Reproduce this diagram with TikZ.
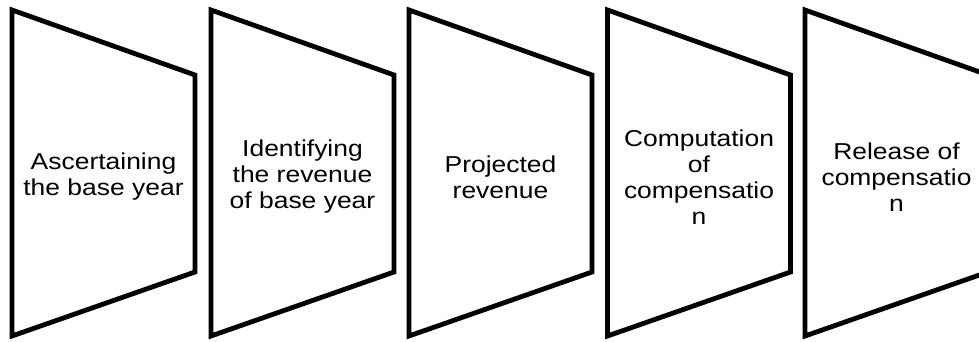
\documentclass[tikz,border=0pt]{standalone}
\usepackage{fontspec}
\setmainfont{Liberation Sans}
\newfontfamily\stagefont[FakeStretch=1.15]{Liberation Sans}
\usetikzlibrary{positioning,calc}
\tikzset{
  stagebox/.style={draw=black,line width=4.8pt,line join=miter},
  stagetext/.style={align=center,inner sep=0pt,
    font=\stagefont\fontsize{23}{26}\selectfont},
}

\begin{document}
\begin{tikzpicture}[x=1pt,y=1pt]
  \useasboundingbox (0,0) rectangle (979,342);

  \coordinate (c1) at (103.5,169);
  \coordinate (c2) at (302.5,169);
  \coordinate (c3) at (500.5,169);
  \coordinate (c4) at (699,169);
  \coordinate (c5) at (896.5,169);

  \draw[stagebox] ($(c1)+(-91.5,163)$) -- ($(c1)+(91.5,98)$)
    -- ($(c1)+(91.5,-99)$) -- ($(c1)+(-91.5,-163)$) -- cycle;
  \draw[stagebox] ($(c2)+(-91.5,163)$) -- ($(c2)+(91.5,98)$)
    -- ($(c2)+(91.5,-99)$) -- ($(c2)+(-91.5,-163)$) -- cycle;
  \draw[stagebox] ($(c3)+(-91.5,163)$) -- ($(c3)+(91.5,98)$)
    -- ($(c3)+(91.5,-99)$) -- ($(c3)+(-91.5,-163)$) -- cycle;
  \draw[stagebox] ($(c4)+(-91.5,163)$) -- ($(c4)+(91.5,98)$)
    -- ($(c4)+(91.5,-99)$) -- ($(c4)+(-91.5,-163)$) -- cycle;
  \draw[stagebox] ($(c5)+(-91.5,163)$) -- ($(c5)+(91.5,98)$)
    -- ($(c5)+(91.5,-99)$) -- ($(c5)+(-91.5,-163)$) -- cycle;

  \node[stagetext, below=4pt of c1, anchor=center] (s1) {Ascertaining\\the base year};
  \node[stagetext, below=4pt of c2, anchor=center] (s2) {Identifying\\the revenue\\of base year};
  \node[stagetext, below=4pt of c3, anchor=center] (s3) {Projected\\revenue};
  \node[stagetext, below=4pt of c4, anchor=center] (s4) {Computation\\of\\compensatio\\n};
  \node[stagetext, below=4pt of c5, anchor=center] (s5) {Release of\\compensatio\\n};
\end{tikzpicture}
\end{document}
